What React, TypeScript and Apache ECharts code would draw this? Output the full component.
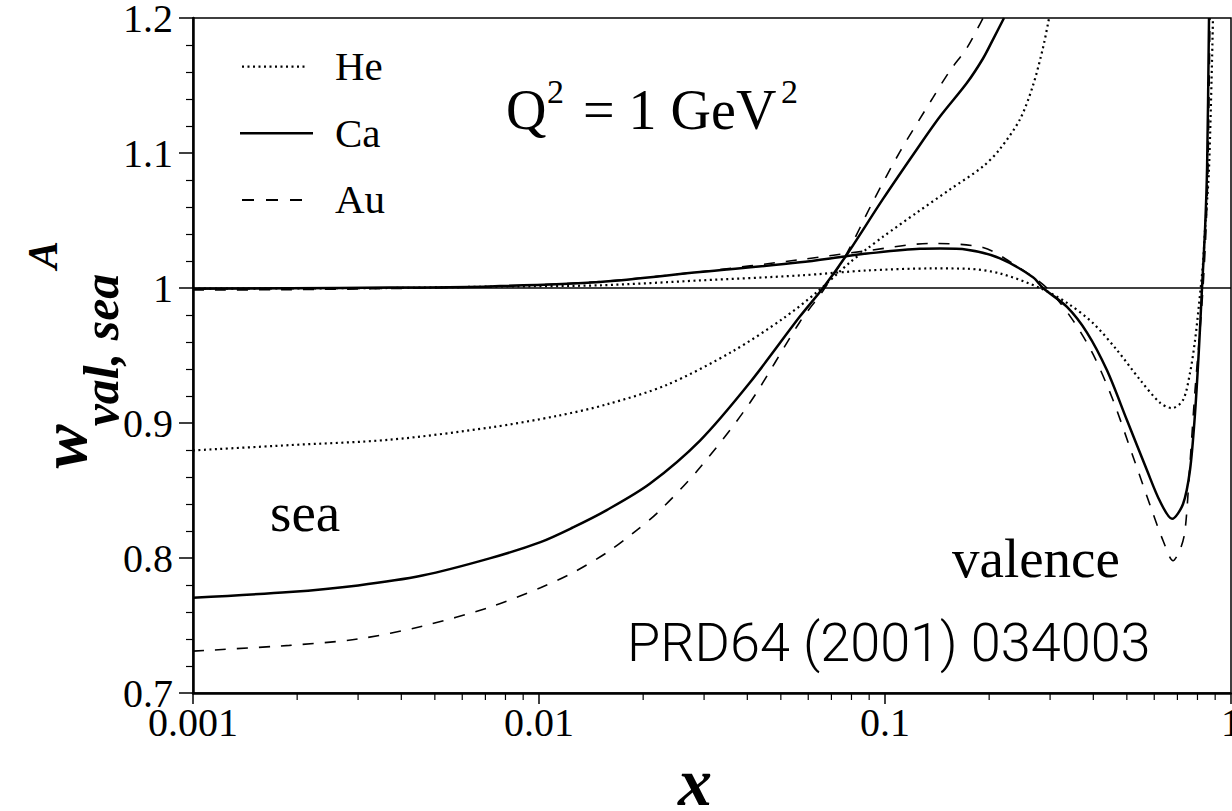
import React, { useEffect, useRef } from "react";
import * as echarts from "echarts";

// Tick labels
const xTickLabels = ["0.001", "0.01", "0.1", "1"];
const yTickLabels = ["0.7", "0.8", "0.9", "1", "1.1", "1.2"];
const xMinorTicks = [
  0.002, 0.003, 0.004, 0.005, 0.006, 0.007, 0.008, 0.009,
  0.02, 0.03, 0.04, 0.05, 0.06, 0.07, 0.08, 0.09,
  0.2, 0.3, 0.4, 0.5, 0.6, 0.7, 0.8, 0.9,
];

// Sea-quark weight functions  [x, w]
const heSea: [number, number][] = [
  [0.001, 0.8797], [0.0019, 0.8836], [0.0037, 0.8876], [0.0072, 0.8966], [0.0113, 0.9053],
  [0.0157, 0.9138], [0.0234, 0.9282], [0.0364, 0.9533], [0.0507, 0.9773], [0.0636, 0.997],
  [0.0792, 1.019], [0.0887, 1.029], [0.0987, 1.038], [0.1238, 1.056], [0.1541, 1.073],
  [0.192, 1.09], [0.2149, 1.103], [0.2456, 1.125], [0.2677, 1.15], [0.2862, 1.178],
  [0.298, 1.2],
];
const caSea: [number, number][] = [
  [0.001, 0.7706], [0.0019, 0.7748], [0.003, 0.7797], [0.0046, 0.787], [0.0072, 0.7997],
  [0.0101, 0.8118], [0.0125, 0.8225], [0.0157, 0.8355], [0.0209, 0.855], [0.0292, 0.887],
  [0.0407, 0.93], [0.0568, 0.979], [0.0662, 1.0], [0.0777, 1.025], [0.0987, 1.066],
  [0.1238, 1.103], [0.1442, 1.127], [0.1726, 1.152], [0.192, 1.17], [0.2051, 1.184],
  [0.2208, 1.2],
];
const auSea: [number, number][] = [
  [0.001, 0.731], [0.0019, 0.7353], [0.003, 0.74], [0.0046, 0.7495], [0.0072, 0.7635],
  [0.0101, 0.778], [0.0125, 0.789], [0.0157, 0.804], [0.0187, 0.8185], [0.0221, 0.834],
  [0.0292, 0.867], [0.0407, 0.915], [0.0568, 0.975], [0.0662, 0.998], [0.0777, 1.026],
  [0.0923, 1.064], [0.1105, 1.101], [0.1376, 1.141], [0.1541, 1.161], [0.1726, 1.178],
  [0.192, 1.2],
];

// Valence-quark weight functions  [x, w]
const heVal: [number, number][] = [
  [0.001, 0.9995], [0.0037, 1.0], [0.0072, 1.001], [0.015, 1.002], [0.0292, 1.0056],
  [0.0568, 1.0093], [0.0887, 1.013], [0.1376, 1.0145], [0.1726, 1.0143], [0.2149, 1.0108],
  [0.2805, 1.0], [0.3357, 0.989], [0.3992, 0.974], [0.4683, 0.954], [0.5458, 0.932],
  [0.6234, 0.915], [0.6754, 0.911], [0.7267, 0.917], [0.7611, 0.937], [0.787, 0.961],
  [0.8083, 0.988], [0.83, 1.018], [0.8412, 1.043], [0.864, 1.089], [0.887, 1.2],
];
const caVal: [number, number][] = [
  [0.001, 0.9995], [0.0019, 0.9998], [0.0037, 1.0003], [0.0072, 1.0012], [0.015, 1.0044],
  [0.0292, 1.0118], [0.0568, 1.019], [0.0766, 1.0234], [0.0887, 1.0255], [0.1262, 1.029],
  [0.1442, 1.0292], [0.1726, 1.0284], [0.2149, 1.022], [0.2677, 1.008], [0.2862, 1.0],
  [0.3357, 0.986], [0.3835, 0.967], [0.4381, 0.939], [0.5005, 0.902], [0.5717, 0.865],
  [0.6234, 0.842], [0.6754, 0.829], [0.7267, 0.84], [0.7611, 0.865], [0.787, 0.907],
  [0.8083, 0.956], [0.8245, 1.0], [0.8412, 1.043], [0.853, 1.09], [0.8639, 1.2],
];
const auVal: [number, number][] = [
  [0.001, 0.9985], [0.0019, 0.9988], [0.0037, 0.9996], [0.0072, 1.001], [0.015, 1.0048],
  [0.0292, 1.012], [0.0568, 1.021], [0.0887, 1.0276], [0.1349, 1.033], [0.192, 1.03],
  [0.2344, 1.018], [0.2939, 1.0], [0.3494, 0.976], [0.3992, 0.951], [0.456, 0.917],
  [0.5212, 0.875], [0.5951, 0.833], [0.636, 0.813], [0.68, 0.798], [0.7123, 0.806],
  [0.7362, 0.82], [0.7611, 0.87], [0.787, 0.924], [0.8136, 0.969], [0.83, 1.0],
  [0.8467, 1.043], [0.858, 1.09], [0.8694, 1.2],
];

const SERIF = '"Liberation Serif", "Times New Roman", serif';
const DOT: number[] = [2, 3.5];
const DASH: number[] = [11, 11];

const labelFor = (labels: string[], v: number) => {
  const hit = labels.find((l) => Math.abs(Number(l) - v) < 1e-9 * Math.max(1, Math.abs(v)) + 1e-9);
  return hit ?? "";
};

function curve(name: string, data: [number, number][], type: any, width: number) {
  return {
    type: "line",
    name,
    data,
    symbol: "none",
    showSymbol: false,
    smooth: 0.3,
    silent: true,
    z: 3,
    lineStyle: { color: "#000", width, type, cap: "butt" },
  };
}

export default function App() {
  const ref = useRef<HTMLDivElement>(null);

  useEffect(() => {
    const chart = echarts.init(ref.current!, undefined, { renderer: "svg" });

    const serifText = (text: string, x: number, y: number, size: number, extra: any = {}) => ({
      type: "text",
      x,
      y,
      silent: true,
      style: {
        text,
        fill: "#000",
        font: `${size}px ${SERIF}`,
        align: "left",
        verticalAlign: "middle",
        ...extra,
      },
    });

    const option: any = {
      animation: false,
      backgroundColor: "#fff",
      grid: {
        left: 193,
        top: 18,
        width: 1038,
        height: 675,
        containLabel: false,
        outerBoundsMode: "none",
        show: true,
        borderColor: "#000",
        borderWidth: 1.5,
        backgroundColor: "transparent",
      },
      xAxis: {
        type: "log",
        logBase: 10,
        min: 0.001,
        max: 1,
        axisLine: { show: true, onZero: false, lineStyle: { color: "#000", width: 2.5 } },
        axisTick: { show: true, length: 11, lineStyle: { color: "#000", width: 1.5 } },
        axisLabel: {
          color: "#000",
          fontFamily: SERIF,
          fontSize: 40,
          margin: 9,
          hideOverlap: false,
          formatter: (v: number) => labelFor(xTickLabels, v),
        },
        splitLine: { show: false },
      },
      yAxis: {
        type: "value",
        min: 0.7,
        max: 1.2,
        interval: 0.1,
        axisLine: { show: true, onZero: false, lineStyle: { color: "#000", width: 2.5 } },
        axisTick: { show: true, length: 14, lineStyle: { color: "#000", width: 1.5 } },
        minorTick: { show: true, splitNumber: 5, length: 7, lineStyle: { color: "#000", width: 1.2 } },
        axisLabel: {
          color: "#000",
          fontFamily: SERIF,
          fontSize: 40,
          margin: 20,
          formatter: (v: number) => labelFor(yTickLabels, v),
        },
        splitLine: { show: false },
        minorSplitLine: { show: false },
      },
      series: [
        {
          ...curve("He sea", heSea, DOT, 2.2),
          markLine: {
            silent: true,
            symbol: ["none", "none"],
            label: { show: false },
            lineStyle: { color: "#000", type: "solid", width: 1.6 },
            data: [{ yAxis: 1 }],
          },
        },
        curve("Ca sea", caSea, "solid", 2.5),
        curve("Au sea", auSea, DASH, 1.6),
        curve("He valence", heVal, DOT, 2.2),
        curve("Ca valence", caVal, "solid", 2.5),
        curve("Au valence", auVal, DASH, 1.6),
        {
          type: "custom",
          name: "minor x ticks",
          coordinateSystem: "cartesian2d",
          clip: false,
          silent: true,
          z: 5,
          data: xMinorTicks.map((v) => [v, 0.7]),
          renderItem: (_p: any, api: any) => {
            const p = api.coord([api.value(0), api.value(1)]);
            return {
              type: "line",
              shape: { x1: p[0], y1: p[1], x2: p[0], y2: p[1] + 7 },
              style: { stroke: "#000", lineWidth: 1.2 },
            };
          },
        },
      ],
      graphic: [
        // legend
        { type: "line", silent: true, shape: { x1: 242, y1: 66.7, x2: 308, y2: 66.7 }, style: { stroke: "#000", lineWidth: 2.2, lineDash: DOT } },
        { type: "line", silent: true, shape: { x1: 240, y1: 133.3, x2: 313, y2: 133.3 }, style: { stroke: "#000", lineWidth: 2.5 } },
        { type: "line", silent: true, shape: { x1: 242, y1: 200, x2: 308, y2: 200 }, style: { stroke: "#000", lineWidth: 2, lineDash: [12, 12] } },
        serifText("He", 335, 65.5, 41),
        serifText("Ca", 335, 132.5, 41),
        serifText("Au", 335, 198.5, 41),
        // Q^2 annotation
        serifText("Q", 506, 110, 56),
        serifText("2", 547, 91.5, 34),
        serifText("= 1 GeV", 583, 110, 56),
        serifText("2", 781, 91.5, 34),
        // region labels
        serifText("sea", 270, 512, 55),
        serifText("valence", 952, 558, 55),
        {
          type: "text",
          x: 627,
          y: 642,
          silent: true,
          style: {
            text: "PRD64 (2001) 034003",
            fill: "#000",
            font: '300 54px Roboto, "Liberation Sans", sans-serif',
            align: "left",
            verticalAlign: "middle",
          },
        },
        // x-axis title
        serifText("x", 695, 782, 68, { align: "center", font: `bold italic 68px ${SERIF}` }),
        // y-axis title, rotated to read bottom-to-top
        {
          type: "group",
          x: 0,
          y: 0,
          rotation: Math.PI / 2,
          silent: true,
          children: [
            serifText("w", -446.5, 63.7, 66, { align: "center", font: `bold italic 66px ${SERIF}` }),
            serifText("val, sea", -350, 101, 50, { align: "center", font: `bold italic 50px ${SERIF}` }),
            serifText("A", -255, 42.8, 42, { align: "center", font: `bold italic 42px ${SERIF}` }),
          ],
        },
      ],
    };

    chart.setOption(option);
    return () => chart.dispose();
  }, []);

  return (
    <div
      ref={ref}
      style={{ position: "absolute", left: 0, top: 0, width: 1232, height: 811, background: "#fff" }}
    />
  );
}
